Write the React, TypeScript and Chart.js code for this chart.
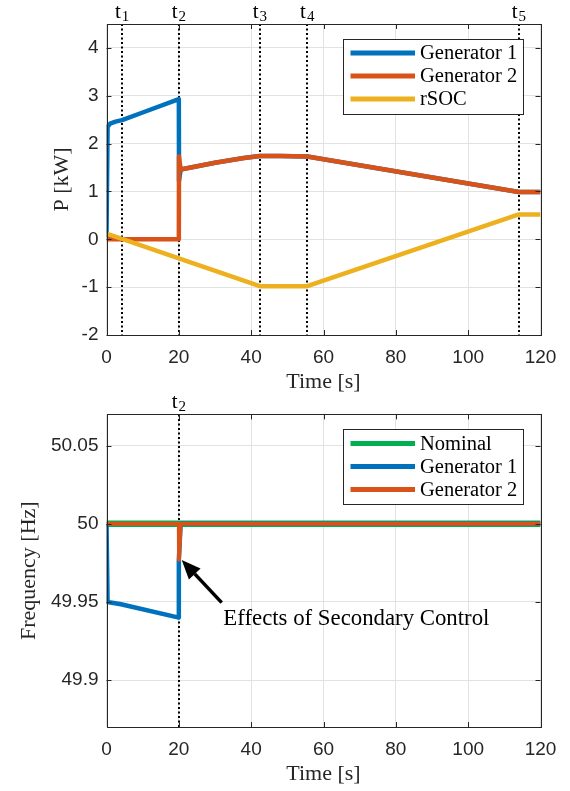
import React, { useEffect, useRef } from 'react';
import { Chart, registerables } from 'chart.js';

Chart.register(...registerables);

const SERIF = '"Liberation Serif", "Times New Roman", serif';
const SANS = '"Liberation Sans", Arial, sans-serif';
const INK = '#262626';
const GRID = '#e2e2e2';
const BLUE = '#0072BD';
const ORANGE = '#D95319';
const YELLOW = '#EDB120';
const GREEN = '#00B050';

// ---------- Top panel: power ----------
const gen1PTime = [0, 0.3, 1, 2.5, 4.3, 10, 20, 20.05, 20.5, 30, 38, 42.4, 48, 55.5, 114, 120];
const gen1PValue = [0.05, 2.35, 2.42, 2.46, 2.49, 2.65, 2.93, 1.22, 1.46, 1.6, 1.7, 1.74, 1.74, 1.73, 0.99, 0.99];
const gen2PTime = [0, 20, 20.05, 20.5, 30, 38, 42.4, 48, 55.5, 114, 120];
const gen2PValue = [0, 0, 1.73, 1.46, 1.6, 1.7, 1.74, 1.74, 1.73, 0.99, 0.99];
const rsocTime = [0, 20, 42.4, 55.5, 114, 120];
const rsocValue = [0.12, -0.4, -0.98, -0.98, 0.52, 0.52];
const powerTicks = [-2, -1, 0, 1, 2, 3, 4];
const powerEventTimes = [4.3, 20, 42.4, 55.5, 114];
const powerEventLabels = ['1', '2', '3', '4', '5'];

// ---------- Bottom panel: frequency ----------
const nominalTime = [0, 120];
const nominalValue = [50, 50];
const gen1FTime = [0, 0.3, 4, 20, 20, 20.5, 120];
const gen1FValue = [50, 49.95, 49.9485, 49.94, 49.977, 50, 50];
const gen2FTime = [0, 20, 20.05, 20.5, 120];
const gen2FValue = [50, 50, 49.977, 50, 50];
const freqTicks = [49.9, 49.95, 50, 50.05];
const freqEventTimes = [20];
const freqEventLabels = ['2'];
const annotationText = 'Effects of Secondary Control';
const arrowTip = [20.8, 49.9768];
const arrowTail = [31.85, 49.9496];
const annotationAt = [32.3, 49.9389];

const timeTicks = [0, 20, 40, 60, 80, 100, 120];

const pts = (xs: number[], ys: number[]) => xs.map((x, i) => ({ x, y: ys[i] }));

function makeOverlay(opts: {
  events: number[];
  eventLabels: string[];
  yTitle: string;
  yTitleX: number;
  arrow?: boolean;
}) {
  return {
    id: 'overlay',
    beforeDatasetsDraw(chart: any) {
      const { ctx, chartArea: a, scales } = chart;
      ctx.save();
      ctx.strokeStyle = '#000';
      ctx.lineWidth = 2;
      ctx.setLineDash([2, 2.5]);
      opts.events.forEach((t) => {
        const x = Math.round(scales.x.getPixelForValue(t));
        ctx.beginPath();
        ctx.moveTo(x, a.top);
        ctx.lineTo(x, a.bottom);
        ctx.stroke();
      });
      ctx.restore();
    },
    afterDraw(chart: any) {
      const { ctx, chartArea: a, scales } = chart;
      ctx.save();
      // box
      ctx.strokeStyle = INK;
      ctx.lineWidth = 1;
      ctx.strokeRect(Math.round(a.left) + 0.5, Math.round(a.top) + 0.5, Math.round(a.right - a.left), Math.round(a.bottom - a.top));
      // inner ticks
      ctx.beginPath();
      scales.x.ticks.forEach((tk: any) => {
        const x = Math.round(scales.x.getPixelForValue(tk.value)) + 0.5;
        ctx.moveTo(x, a.bottom);
        ctx.lineTo(x, a.bottom - 5);
        ctx.moveTo(x, a.top);
        ctx.lineTo(x, a.top + 5);
      });
      scales.y.ticks.forEach((tk: any) => {
        const y = Math.round(scales.y.getPixelForValue(tk.value)) + 0.5;
        ctx.moveTo(a.left, y);
        ctx.lineTo(a.left + 5, y);
        ctx.moveTo(a.right, y);
        ctx.lineTo(a.right - 5, y);
      });
      ctx.stroke();

      // event labels
      ctx.fillStyle = '#000';
      opts.events.forEach((t, i) => {
        const x = scales.x.getPixelForValue(t);
        ctx.font = `21px ${SERIF}`;
        ctx.textBaseline = 'alphabetic';
        ctx.textAlign = 'left';
        const tw = ctx.measureText('t').width;
        ctx.font = `15px ${SERIF}`;
        const sw = ctx.measureText(opts.eventLabels[i]).width;
        const x0 = x - (tw + sw + 1) / 2;
        ctx.font = `21px ${SERIF}`;
        ctx.fillText('t', x0, a.top - 6);
        ctx.font = `15px ${SERIF}`;
        ctx.fillText(opts.eventLabels[i], x0 + tw + 1, a.top - 3);
      });

      // axis titles
      ctx.fillStyle = INK;
      ctx.font = `22px ${SERIF}`;
      ctx.textAlign = 'center';
      ctx.textBaseline = 'middle';
      ctx.fillText('Time [s]', (a.left + a.right) / 2, a.bottom + 47);
      ctx.save();
      ctx.translate(opts.yTitleX, (a.top + a.bottom) / 2);
      ctx.rotate(-Math.PI / 2);
      ctx.fillText(opts.yTitle, 0, 0);
      ctx.restore();

      // legend
      const lw = 179.5;
      const lh = 75;
      const lx = a.right - 18 - lw;
      const ly = a.top + 15;
      ctx.fillStyle = '#fff';
      ctx.fillRect(lx, ly, lw, lh);
      ctx.strokeStyle = INK;
      ctx.lineWidth = 1;
      ctx.strokeRect(Math.round(lx) + 0.5, Math.round(ly) + 0.5, Math.round(lw), Math.round(lh));
      const rows = [14, 37, 60];
      chart.data.datasets.forEach((ds: any, i: number) => {
        const y = ly + rows[i];
        ctx.strokeStyle = ds.borderColor;
        ctx.lineWidth = 5;
        ctx.beginPath();
        ctx.moveTo(lx + 7.5, y);
        ctx.lineTo(lx + 72, y);
        ctx.stroke();
        ctx.fillStyle = '#000';
        ctx.font = `20.5px ${SERIF}`;
        ctx.textAlign = 'left';
        ctx.textBaseline = 'middle';
        ctx.fillText(ds.label, lx + 77, y + 1);
      });

      // arrow annotation
      if (opts.arrow) {
        const tx = scales.x.getPixelForValue(arrowTip[0]);
        const ty = scales.y.getPixelForValue(arrowTip[1]);
        const bx = scales.x.getPixelForValue(arrowTail[0]);
        const by = scales.y.getPixelForValue(arrowTail[1]);
        const ang = Math.atan2(ty - by, tx - bx);
        const hl = 19;
        const hw = 8;
        const hx = tx - hl * Math.cos(ang);
        const hy = ty - hl * Math.sin(ang);
        ctx.strokeStyle = '#000';
        ctx.lineWidth = 3.5;
        ctx.beginPath();
        ctx.moveTo(bx, by);
        ctx.lineTo(hx, hy);
        ctx.stroke();
        ctx.fillStyle = '#000';
        ctx.beginPath();
        ctx.moveTo(tx, ty);
        ctx.lineTo(hx + hw * Math.sin(ang), hy - hw * Math.cos(ang));
        ctx.lineTo(hx - hw * Math.sin(ang), hy + hw * Math.cos(ang));
        ctx.closePath();
        ctx.fill();
        ctx.font = `22.8px ${SERIF}`;
        ctx.textAlign = 'left';
        ctx.textBaseline = 'middle';
        ctx.fillText(annotationText, scales.x.getPixelForValue(annotationAt[0]), scales.y.getPixelForValue(annotationAt[1]));
      }
      ctx.restore();
    },
  };
}

function baseScales(yMin: number, yMax: number, yTicks: number[], xHeight: number, fmt: (v: number) => string) {
  return {
    x: {
      type: 'linear',
      min: 0,
      max: 120,
      afterBuildTicks: (s: any) => {
        s.ticks = timeTicks.map((v) => ({ value: v }));
      },
      afterFit: (s: any) => {
        s.height = xHeight;
      },
      grid: { color: GRID, drawTicks: false, lineWidth: 1 },
      border: { display: false },
      ticks: { font: { family: SANS, size: 19 }, color: INK, padding: 11, maxRotation: 0 },
    },
    y: {
      type: 'linear',
      min: yMin,
      max: yMax,
      afterBuildTicks: (s: any) => {
        s.ticks = yTicks.map((v) => ({ value: v }));
      },
      afterFit: (s: any) => {
        s.width = 106.5;
      },
      grid: { color: GRID, drawTicks: false, lineWidth: 1 },
      border: { display: false },
      ticks: { font: { family: SANS, size: 19 }, color: INK, padding: 8, callback: (v: any) => fmt(Number(v)) },
    },
  };
}

function powerConfig(): any {
  return {
    type: 'line',
    data: {
      datasets: [
        { label: 'Generator 1', data: pts(gen1PTime, gen1PValue), borderColor: BLUE, borderWidth: 4.5, order: 2 },
        { label: 'Generator 2', data: pts(gen2PTime, gen2PValue), borderColor: ORANGE, borderWidth: 4.5, order: 1 },
        { label: 'rSOC', data: pts(rsocTime, rsocValue), borderColor: YELLOW, borderWidth: 4.5, order: 0 },
      ],
    },
    options: {
      responsive: false,
      animation: false,
      elements: { point: { radius: 0 }, line: { tension: 0, borderJoinStyle: 'round', borderCapStyle: 'butt' } },
      layout: { padding: { top: 24, right: 29.5, left: 0, bottom: 0 } },
      plugins: { legend: { display: false }, tooltip: { enabled: false } },
      scales: baseScales(-2, 4.5, powerTicks, 60, (v) => String(v)),
    },
    plugins: [makeOverlay({ events: powerEventTimes, eventLabels: powerEventLabels, yTitle: 'P [kW]', yTitleX: 62 })],
  };
}

function freqConfig(): any {
  return {
    type: 'line',
    data: {
      datasets: [
        { label: 'Nominal', data: pts(nominalTime, nominalValue), borderColor: GREEN, borderWidth: 6.5, order: 2 },
        { label: 'Generator 1', data: pts(gen1FTime, gen1FValue), borderColor: BLUE, borderWidth: 4.5, order: 1 },
        { label: 'Generator 2', data: pts(gen2FTime, gen2FValue), borderColor: ORANGE, borderWidth: 4, order: 0 },
      ],
    },
    options: {
      responsive: false,
      animation: false,
      elements: { point: { radius: 0 }, line: { tension: 0, borderJoinStyle: 'round', borderCapStyle: 'butt' } },
      layout: { padding: { top: 19.3, right: 29.5, left: 0, bottom: 0 } },
      plugins: { legend: { display: false }, tooltip: { enabled: false } },
      scales: baseScales(49.87, 50.07, freqTicks, 64, (v) => String(Number(v.toFixed(2)))),
    },
    plugins: [
      makeOverlay({ events: freqEventTimes, eventLabels: freqEventLabels, yTitle: 'Frequency [Hz]', yTitleX: 29, arrow: true }),
    ],
  };
}

function Panel({ make, top, height }: { make: () => any; top: number; height: number }) {
  const ref = useRef<HTMLCanvasElement>(null);
  useEffect(() => {
    const chart = new Chart(ref.current as HTMLCanvasElement, make());
    return () => chart.destroy();
  }, []);
  return (
    <canvas
      ref={ref}
      width={570}
      height={height}
      style={{ position: 'absolute', left: 0, top, width: 570, height, display: 'block' }}
    />
  );
}

export default function App() {
  return (
    <div style={{ position: 'absolute', left: 0, top: 0, width: 570, height: 791, background: '#fff' }}>
      <Panel make={powerConfig} top={0} height={395} />
      <Panel make={freqConfig} top={395} height={396} />
    </div>
  );
}
